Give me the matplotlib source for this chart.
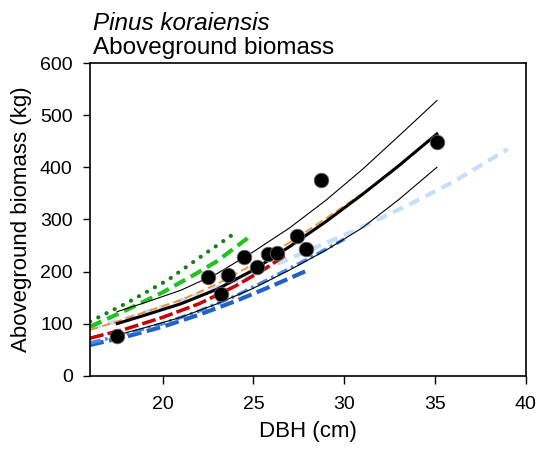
import matplotlib
matplotlib.use("Agg")
import matplotlib.pyplot as plt

plt.rcParams['font.family'] = ['Liberation Sans', 'DejaVu Sans']
plt.rcParams['lines.scale_dashes'] = False

# observed trees
dbh_obs = [17.5, 22.5, 23.2, 23.6, 24.5, 25.2, 25.8, 26.3, 27.4, 27.9, 28.7, 35.1]
agb_obs = [76, 190, 157, 193, 227, 209, 233, 236, 268, 243, 376, 448]

# fitted model and confidence band
fit_x = [17.5, 19, 21, 23, 25, 27, 29, 31, 33, 35.1]
fit_y = [100, 116, 138, 166, 203, 248, 296, 348, 403, 464]
upper_x = [17.5, 19, 21, 23, 25, 27, 29, 31, 33, 35.1]
upper_y = [123, 140, 164, 196, 238, 284, 337, 396, 460, 528]
lower_x = [17.5, 19, 21, 23, 25, 27, 29, 31, 33, 35.1]
lower_y = [78, 92, 112, 138, 168, 203, 241, 284, 338, 400]

# published equations
dotted_green_x = [16, 18, 20.3, 22, 23.9]
dotted_green_y = [104, 139, 184, 226, 272]
dashed_green_x = [16, 18, 20, 21.9, 23, 24.9]
dashed_green_y = [94, 126, 160, 197, 220, 270]
orange_x = [16, 17.5, 19, 21, 23, 25, 27, 29, 31, 33]
orange_y = [88, 104, 122, 145, 176, 214, 256, 302, 350, 400]
lightblue_x = [16, 18, 20, 22, 24, 26, 28, 30, 32, 34, 36, 39]
lightblue_y = [90, 110, 132, 156, 182, 210, 240, 270, 302, 336, 372, 435]
red_x = [16, 18, 20, 22, 24, 25.4, 26.8]
red_y = [72, 90, 112, 138, 172, 200, 232]
midblue_x = [16, 18, 20, 22, 24, 26, 28, 30]
midblue_y = [63, 80, 100, 124, 153, 188, 224, 262]
darkblue_x = [16, 18, 20, 22, 24, 26, 28.1]
darkblue_y = [59, 75, 94, 117, 143, 172, 204]

fig = plt.figure(figsize=(5.36, 4.51), dpi=100)
ax = fig.add_axes([0.168, 0.167, 0.813, 0.693])

ax.plot(lightblue_x, lightblue_y, color='#c6def7', lw=3, dashes=(8, 5))
ax.plot(dotted_green_x, dotted_green_y, color='#1a7f1a', lw=3, dashes=(0.1, 6.5),
        dash_capstyle='round')
ax.plot(dashed_green_x, dashed_green_y, color='#22c322', lw=3, dashes=(9, 4.5))
ax.plot(darkblue_x, darkblue_y, color='#1f63c8', lw=3, dashes=(10, 4))
ax.plot(midblue_x, midblue_y, color='#4a8ae8', lw=2.5, dashes=(8, 3, 2, 3))
ax.plot(red_x, red_y, color='#c80000', lw=2.5, dashes=(10, 3))
ax.plot(orange_x, orange_y, color='#f28e2b', lw=1.3, dashes=(6, 3))
ax.plot(upper_x, upper_y, color='black', lw=0.8)
ax.plot(lower_x, lower_y, color='black', lw=0.8)
ax.plot(fit_x, fit_y, color='black', lw=2.2)
ax.scatter(dbh_obs, agb_obs, s=110, color='black', edgecolors='#666666',
           linewidths=0.6, zorder=5)

ax.set_xlim(16, 40)
ax.set_ylim(0, 600)
ax.set_xticks([20, 25, 30, 35, 40])
ax.set_yticks([0, 100, 200, 300, 400, 500, 600])
ax.tick_params(direction='out', width=1, labelsize=14, top=False, right=False)
ax.tick_params(axis='x', length=6, pad=8.5)
ax.tick_params(axis='y', length=5, pad=7.5)
for s in ax.spines.values():
    s.set_linewidth(1.2)

ax.set_xlabel('DBH (cm)', fontsize=16, labelpad=6)
ax.set_ylabel('Aboveground biomass (kg)', fontsize=16, labelpad=6)

fig.text(0.173, 0.933, 'Pinus koraiensis', fontsize=17.5, style='italic',
         ha='left', va='baseline')
fig.text(0.173, 0.880, 'Aboveground biomass', fontsize=17.5,
         ha='left', va='baseline')

fig.savefig('out.png', dpi=100)
